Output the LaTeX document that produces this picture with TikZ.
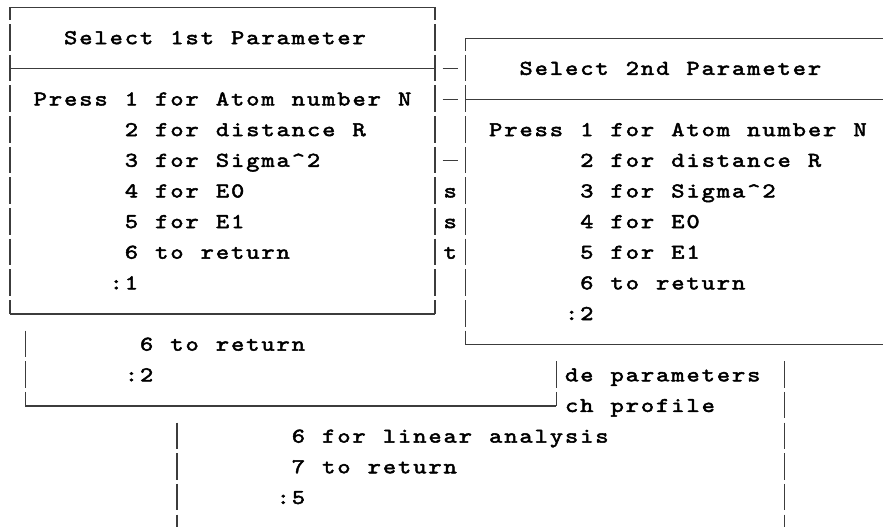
\documentclass[tikz,border=0pt]{standalone}
\usepackage{fontspec}
\newfontfamily\termfont{lmmono10-regular.otf}[FakeBold=2.4, FakeStretch=1.2]
\definecolor{linegray}{RGB}{60,60,60}

% Lay a string out on the character grid: one fixed-width cell per character.
\ExplSyntaxOn
\NewDocumentCommand \cells { m }
  { \str_map_inline:nn {#1} { \makebox[15.18pt][c]{##1} } }
\ExplSyntaxOff

\begin{document}
\begin{tikzpicture}[x=15.18pt, y=-30.65pt,
  frame/.style={draw=linegray, line width=1.2pt},
  vbar/.style={frame, dash pattern=on 26.5pt off 4.15pt},
  cornerbar/.style={vbar, dash phase=14pt},
  txt/.style={anchor=base west, inner sep=0pt, outer sep=0pt, yshift=-6pt,
    font=\termfont\fontsize{21}{25}\selectfont}]

\fill[white] (0pt,0pt) rectangle (883pt,-527pt);
\path[use as bounding box] (0pt,0pt) rectangle (883pt,-527pt);

\begin{scope}[shift={(10pt,-7.5pt)}]
% ---- window: Select 1st Parameter (cols 0..28, rows 0..10)
\draw[frame] (0,0) -- (28,0);
\draw[frame] (0,2) -- (28,2);
\draw[frame] (0,10) -- (28,10);
\draw[cornerbar] (0,0) -- (0,10);
\draw[cornerbar] (28,0) -- (28,10);
\node[txt] (p1title) at (3.5,1) {\cells{Select 1st Parameter}};
\node[txt] (p1a) at (1.5,3) {\cells{Press 1 for Atom number N}};
\node[txt] (p1b) at (7.5,4) {\cells{2 for distance R}};
\node[txt] (p1c) at (7.5,5) {\cells{3 for Sigma^2}};
\node[txt] (p1d) at (7.5,6) {\cells{4 for E0}};
\node[txt] (p1e) at (7.5,7) {\cells{5 for E1}};
\node[txt] (p1f) at (7.5,8) {\cells{6 to return}};
\node[txt] (p1g) at (6.5,9) {\cells{:1}};

% ---- remnants of the window underneath (column 29)
\draw[frame] (28.5,2) -- (29.5,2);
\draw[frame] (28.5,3) -- (29.5,3);
\draw[frame] (28.5,5) -- (29.5,5);
\node[txt] (u1) at (28.5,6) {\cells{s}};
\node[txt] (u2) at (28.5,7) {\cells{s}};
\node[txt] (u3) at (28.5,8) {\cells{t}};

% ---- window: Select 2nd Parameter (cols 30..58, rows 1..11)
\draw[frame] (30,1) -- (57.7,1);
\draw[frame] (30,3) -- (57.7,3);
\draw[frame] (30,11) -- (57.7,11);
\draw[cornerbar] (30,1) -- (30,11);
\node[txt] (p2title) at (33.5,2) {\cells{Select 2nd Parameter}};
\node[txt] (p2a) at (31.5,4) {\cells{Press 1 for Atom number N}};
\node[txt] (p2b) at (37.5,5) {\cells{2 for distance R}};
\node[txt] (p2c) at (37.5,6) {\cells{3 for Sigma^2}};
\node[txt] (p2d) at (37.5,7) {\cells{4 for E0}};
\node[txt] (p2e) at (37.5,8) {\cells{5 for E1}};
\node[txt] (p2f) at (37.5,9) {\cells{6 to return}};
\node[txt] (p2g) at (36.5,10) {\cells{:2}};

% ---- window: lower part of an earlier menu (cols 1..36, rows ..13)
\draw[vbar] ([yshift=14pt]1,11) -- (1,13);
\draw[frame] (1,13) -- (36,13);
\draw[vbar] ([yshift=14pt]36,12) -- (36,13);
\node[txt] (m1) at (8.5,11) {\cells{6 to return}};
\node[txt] (m2) at (7.5,12) {\cells{:2}};
\node[txt] (m3) at (36.5,12) {\cells{de parameters}};
\node[txt] (m4) at (36.5,13) {\cells{ch profile}};

% ---- window: analysis menu (cols 11..51, rows ..17)
\draw[vbar] ([yshift=14pt]51,12) -- (51,17.7);
\draw[vbar] ([yshift=14pt]11,14) -- (11,17.7);
\node[txt] (a1) at (18.5,14) {\cells{6 for linear analysis}};
\node[txt] (a2) at (18.5,15) {\cells{7 to return}};
\node[txt] (a3) at (17.5,16) {\cells{:5}};
\end{scope}
\end{tikzpicture}
\end{document}
